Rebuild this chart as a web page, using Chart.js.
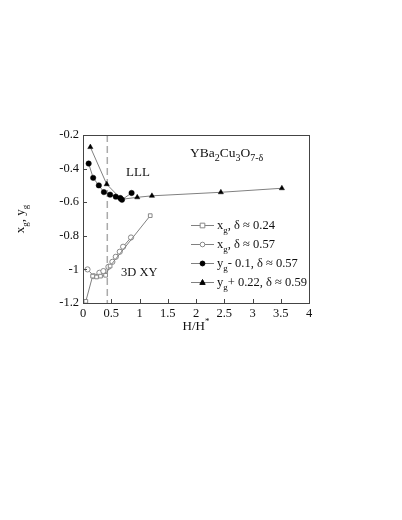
<!DOCTYPE html>
<html>
<head>
<meta charset="utf-8">
<script src="https://cdn.jsdelivr.net/npm/chart.js@4.4.1/dist/chart.umd.min.js"></script>
<style>
  html, body { margin: 0; padding: 0; background: #fff; }
  canvas { display: block; }
</style>
</head>
<body>
<canvas id="chart" width="402" height="520"></canvas>
<script>
// values
const xTicks = [0, 0.5, 1, 1.5, 2, 2.5, 3, 3.5, 4];
const yTicks = [-1.2, -1, -0.8, -0.6, -0.4, -0.2];
const dashedAt = 0.43;

const squareX = [0.05, 0.17, 0.24, 0.31, 0.40, 0.48, 1.19];
const squareY = [-1.19, -1.04, -1.045, -1.04, -1.035, -0.98, -0.68];

const openCircleX = [0.08, 0.19, 0.29, 0.36, 0.45, 0.52, 0.58, 0.65, 0.71, 0.85];
const openCircleY = [-1.0, -1.04, -1.02, -1.01, -0.985, -0.955, -0.925, -0.895, -0.865, -0.81];

const dotX = [0.1, 0.18, 0.28, 0.37, 0.48, 0.58, 0.66, 0.69, 0.86];
const dotY = [-0.37, -0.455, -0.5, -0.54, -0.555, -0.567, -0.575, -0.585, -0.545];

const triX = [0.13, 0.42, 0.68, 0.96, 1.22, 2.44, 3.52];
const triY = [-0.272, -0.493, -0.583, -0.571, -0.562, -0.541, -0.517];

const SERIF = '"Liberation Serif", "DejaVu Serif", serif';
const LINE = '#808080';

function pts(xs, ys) {
  return xs.map((x, i) => ({ x, y: ys[i] }));
}

const datasets = [
  {
    label: 'xg, δ ≈ 0.24',
    data: pts(squareX, squareY),
    pointStyle: 'rect',
    pointRadius: 2.6,
    pointBackgroundColor: '#fff',
    pointBorderColor: '#888',
    pointBorderWidth: 1,
    borderColor: LINE,
    borderWidth: 1,
    showLine: true
  },
  {
    label: 'xg, δ ≈ 0.57',
    data: pts(openCircleX, openCircleY),
    pointStyle: 'circle',
    pointRadius: 2.6,
    pointBackgroundColor: '#fff',
    pointBorderColor: '#888',
    pointBorderWidth: 1,
    borderColor: LINE,
    borderWidth: 1,
    showLine: true
  },
  {
    label: 'yg - 0.1, δ ≈ 0.57',
    data: pts(dotX, dotY),
    pointStyle: 'circle',
    pointRadius: 2.7,
    pointBorderWidth: 0.5,
    pointBackgroundColor: '#000',
    pointBorderColor: '#000',
    borderColor: LINE,
    borderWidth: 1,
    showLine: true
  },
  {
    label: 'yg + 0.22, δ ≈ 0.59',
    data: pts(triX, triY),
    pointStyle: 'triangle',
    pointRadius: 3,
    pointBorderWidth: 0.5,
    pointBackgroundColor: '#000',
    pointBorderColor: '#000',
    borderColor: LINE,
    borderWidth: 1,
    showLine: true
  }
];

// text with sub/superscripts: parts = [[text, 'n'|'sub'|'sup'], ...]
function richText(ctx, parts, x, y, size, align = 'left') {
  const widths = parts.map(([t, k]) => {
    ctx.font = `${k === 'n' ? size : Math.round(size * 0.72)}px ${SERIF}`;
    return ctx.measureText(t).width;
  });
  const total = widths.reduce((a, b) => a + b, 0);
  let cx = align === 'center' ? x - total / 2 : x;
  ctx.textAlign = 'left';
  ctx.textBaseline = 'alphabetic';
  parts.forEach(([t, k], i) => {
    ctx.font = `${k === 'n' ? size : Math.round(size * 0.72)}px ${SERIF}`;
    const dy = k === 'sub' ? size * 0.3 : k === 'sup' ? -size * 0.45 : 0;
    ctx.fillText(t, cx, y + dy);
    cx += widths[i];
  });
}

const legendRows = [
  [['x', 'n'], ['g', 'sub'], [', δ ≈ 0.24', 'n']],
  [['x', 'n'], ['g', 'sub'], [', δ ≈ 0.57', 'n']],
  [['y', 'n'], ['g', 'sub'], ['- 0.1, δ ≈ 0.57', 'n']],
  [['y', 'n'], ['g', 'sub'], ['+ 0.22, δ ≈ 0.59', 'n']]
];

function drawMarker(ctx, ds, x, y) {
  ctx.save();
  ctx.fillStyle = ds.pointBackgroundColor;
  ctx.strokeStyle = ds.pointBorderColor;
  ctx.lineWidth = 1;
  const r = ds.pointRadius * 0.9;
  ctx.beginPath();
  if (ds.pointStyle === 'rect') {
    ctx.rect(x - r, y - r, 2 * r, 2 * r);
  } else if (ds.pointStyle === 'triangle') {
    ctx.moveTo(x, y - r * 1.1);
    ctx.lineTo(x + r, y + r * 0.7);
    ctx.lineTo(x - r, y + r * 0.7);
    ctx.closePath();
  } else {
    ctx.arc(x, y, r, 0, Math.PI * 2);
  }
  ctx.fill();
  ctx.stroke();
  ctx.restore();
}

const decorPlugin = {
  id: 'decor',
  beforeDatasetsDraw(chart) {
    const { ctx, chartArea, scales } = chart;
    const px = scales.x.getPixelForValue(dashedAt);
    ctx.save();
    ctx.strokeStyle = '#aaa';
    ctx.lineWidth = 1.5;
    ctx.setLineDash([7, 4]);
    ctx.beginPath();
    ctx.moveTo(px, chartArea.top);
    ctx.lineTo(px, chartArea.bottom);
    ctx.stroke();
    ctx.restore();
  },
  afterDraw(chart) {
    const { ctx, chartArea: a, scales } = chart;
    ctx.save();
    // frame
    ctx.strokeStyle = '#444';
    ctx.lineWidth = 1;
    ctx.strokeRect(a.left + 0.5, a.top + 0.5, a.right - a.left, a.bottom - a.top);
    // inward ticks
    ctx.beginPath();
    xTicks.forEach((v) => {
      const p = Math.round(scales.x.getPixelForValue(v)) + 0.5;
      ctx.moveTo(p, a.bottom);
      ctx.lineTo(p, a.bottom - 4);
    });
    yTicks.forEach((v) => {
      const p = Math.round(scales.y.getPixelForValue(v)) + 0.5;
      ctx.moveTo(a.left, p);
      ctx.lineTo(a.left + 4, p);
    });
    ctx.stroke();

    ctx.fillStyle = '#111';
    // axis titles
    richText(ctx, [['H/H', 'n'], ['*', 'sup']], (a.left + a.right) / 2, 330, 13, 'center');
    ctx.save();
    ctx.translate(24, (a.top + a.bottom) / 2);
    ctx.rotate(-Math.PI / 2);
    richText(ctx, [['x', 'n'], ['g', 'sub'], [', y', 'n'], ['g', 'sub']], 0, 0, 13, 'center');
    ctx.restore();

    // annotations
    richText(ctx, [['YBa', 'n'], ['2', 'sub'], ['Cu', 'n'], ['3', 'sub'], ['O', 'n'], ['7-δ', 'sub']], 190, 157, 13.5);
    richText(ctx, [['LLL', 'n']], 126, 176, 13);
    richText(ctx, [['3D XY', 'n']], 121, 276, 12.5);

    // legend
    const rowY = [225, 244, 263, 282];
    chart.data.datasets.forEach((ds, i) => {
      const y = rowY[i];
      ctx.strokeStyle = LINE;
      ctx.lineWidth = 1;
      ctx.beginPath();
      ctx.moveTo(191, y + 0.5);
      ctx.lineTo(214, y + 0.5);
      ctx.stroke();
      drawMarker(ctx, ds, 202.5, y + 0.5);
      ctx.fillStyle = '#111';
      richText(ctx, legendRows[i], 217, y + 4, 12.5);
    });
    ctx.restore();
  }
};

new Chart(document.getElementById('chart'), {
  type: 'scatter',
  data: { datasets },
  plugins: [decorPlugin],
  options: {
    responsive: false,
    animation: false,
    devicePixelRatio: 1,
    layout: { padding: { left: 0, top: 135, right: 93, bottom: 187 } },
    plugins: { legend: { display: false }, tooltip: { enabled: false } },
    elements: { line: { tension: 0 } },
    scales: {
      x: {
        type: 'linear',
        min: 0,
        max: 4,
        afterBuildTicks: (s) => { s.ticks = xTicks.map((v) => ({ value: v })); },
        afterFit: (s) => { s.height = 30; },
        grid: { display: false, drawTicks: false },
        border: { display: false },
        ticks: {
          padding: 3,
          color: '#111',
          font: { family: SERIF, size: 12.5 },
          callback: (v) => String(Math.round(v * 10) / 10)
        }
      },
      y: {
        type: 'linear',
        min: -1.2,
        max: -0.2,
        afterBuildTicks: (s) => { s.ticks = yTicks.map((v) => ({ value: v })); },
        afterFit: (s) => { s.width = 83; },
        grid: { display: false, drawTicks: false },
        border: { display: false },
        ticks: {
          padding: 4,
          color: '#111',
          font: { family: SERIF, size: 12.5 },
          callback: (v) => String(Math.round(v * 10) / 10)
        }
      }
    }
  }
});
</script>
</body>
</html>
